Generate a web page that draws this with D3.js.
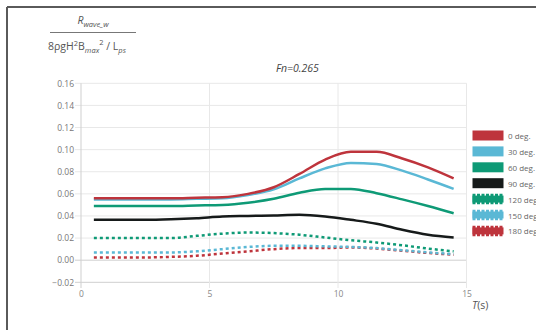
<!DOCTYPE html>
<html>
<head>
    <title>Fn=0.265</title>
    <script src="https://d3js.org/d3.v7.min.js"></script>
    <style>
        body { margin: 0; background: #fff; }
        text { font-family: "Open Sans", "DejaVu Sans", sans-serif; }
    </style>
</head>
<body>
    <svg id="chart" width="536" height="330"></svg>
    <script>
        // periods T(s)
        var periods = [0.5, 1.5, 2.5, 3.5, 4.5, 5.5, 6.5, 7.5, 8.5, 9.5, 10.5, 11.5, 12.5, 13.5, 14.5];
        var headings = ["0 deg.", "30 deg.", "60 deg.", "90 deg.", "120 deg.", "150 deg.", "180 deg."];
        var deg0   = [0.056, 0.056, 0.056, 0.056, 0.0565, 0.057, 0.060, 0.066, 0.078, 0.091, 0.098, 0.098, 0.092, 0.084, 0.074];
        var deg30  = [0.055, 0.055, 0.055, 0.055, 0.0555, 0.056, 0.059, 0.064, 0.074, 0.083, 0.088, 0.087, 0.081, 0.073, 0.0645];
        var deg60  = [0.049, 0.049, 0.049, 0.049, 0.0495, 0.050, 0.052, 0.0555, 0.061, 0.0645, 0.0645, 0.0606, 0.055, 0.049, 0.0425];
        var deg90  = [0.0365, 0.0365, 0.0365, 0.037, 0.038, 0.0395, 0.040, 0.0405, 0.041, 0.0395, 0.0365, 0.033, 0.0275, 0.023, 0.0205];
        var deg120 = [0.020, 0.020, 0.020, 0.020, 0.022, 0.024, 0.025, 0.0245, 0.023, 0.0205, 0.018, 0.016, 0.0135, 0.0105, 0.008];
        var deg150 = [0.007, 0.007, 0.007, 0.007, 0.008, 0.010, 0.012, 0.013, 0.013, 0.0125, 0.012, 0.011, 0.009, 0.007, 0.0055];
        var deg180 = [0.0025, 0.0025, 0.0025, 0.003, 0.004, 0.006, 0.008, 0.010, 0.011, 0.011, 0.0115, 0.0105, 0.0085, 0.0065, 0.005];
        var yTicks = [-0.02, 0, 0.02, 0.04, 0.06, 0.08, 0.10, 0.12, 0.14, 0.16];
        var xTicks = [0, 5, 10, 15];

        var series = [deg0, deg30, deg60, deg90, deg120, deg150, deg180];
        var colors = ["#be343c", "#5ab8d5", "#0e9a76", "#161a1a", "#0e9a76", "#5ab8d5", "#be343c"];
        var dashed = [false, false, false, false, true, true, true];

        var svg = d3.select("#chart");

        // frame (top and left edges only)
        svg.append("line").attr("x1", 7).attr("x2", 536).attr("y1", 7).attr("y2", 7)
            .attr("stroke", "#5a5a5a").attr("stroke-width", 2);
        svg.append("line").attr("x1", 7).attr("x2", 7).attr("y1", 7).attr("y2", 330)
            .attr("stroke", "#5a5a5a").attr("stroke-width", 2);

        var xScale = d3.scaleLinear().domain([0, 15]).range([81, 466.5]);
        var yScale = d3.scaleLinear().domain([-0.02, 0.16]).range([282.3, 83.3]);

        // grid
        svg.append("g").selectAll("line").data(yTicks).enter().append("line")
            .attr("x1", 75).attr("x2", 466.5)
            .attr("y1", d => yScale(d)).attr("y2", d => yScale(d))
            .attr("stroke", d => (d === 0 || d === -0.02) ? "#cfcfcf" : "#e8e8e8")
            .attr("stroke-width", 1);
        svg.append("g").selectAll("line").data(xTicks).enter().append("line")
            .attr("x1", d => xScale(d)).attr("x2", d => xScale(d))
            .attr("y1", 83.3).attr("y2", 288)
            .attr("stroke", d => d === 0 ? "#cfcfcf" : "#e8e8e8")
            .attr("stroke-width", 1);

        // axis labels
        var yAxis = d3.axisLeft(yScale).tickValues(yTicks).tickFormat(d3.format(".2f")).tickSize(0).tickPadding(7);
        var ya = svg.append("g").attr("transform", "translate(81,0)").call(yAxis);
        ya.select(".domain").remove();
        ya.selectAll("text").attr("fill", "#777").style("font-size", "8.5px")
            .style("font-family", "'Open Sans', sans-serif");

        var xAxis = d3.axisBottom(xScale).tickValues(xTicks).tickSize(0).tickPadding(9);
        var xa = svg.append("g").attr("transform", "translate(0,282.3)").call(xAxis);
        xa.select(".domain").remove();
        xa.selectAll("text").attr("fill", "#888").style("font-size", "8.5px")
            .style("font-family", "'Open Sans', sans-serif");

        // lines
        var line = d3.line()
            .x((d, i) => xScale(periods[i]))
            .y(d => yScale(d))
            .curve(d3.curveMonotoneX);

        for (var k = series.length - 1; k >= 0; k--) {
            svg.append("path").datum(series[k])
                .attr("fill", "none")
                .attr("stroke", colors[k])
                .attr("stroke-width", 2.5)
                .attr("stroke-dasharray", dashed[k] ? "3,3" : null)
                .attr("d", line);
        }

        // title
        svg.append("text").attr("x", 276).attr("y", 72)
            .attr("fill", "#444").style("font-size", "10.5px").style("font-style", "italic")
            .text("Fn=0.265");

        // x axis title
        var tt = svg.append("text").attr("x", 472).attr("y", 309)
            .attr("fill", "#555").style("font-size", "10.5px");
        tt.append("tspan").style("font-style", "italic").text("T");
        tt.append("tspan").text("(s)");

        // y axis title as a fraction
        var num = svg.append("text").attr("x", 93).attr("y", 24).attr("text-anchor", "middle")
            .attr("fill", "#555").style("font-size", "10.5px").style("font-style", "italic");
        num.append("tspan").text("R");
        num.append("tspan").attr("dy", 3).style("font-size", "7.5px").text("wave_w");
        svg.append("line").attr("x1", 50).attr("x2", 136).attr("y1", 32.5).attr("y2", 32.5)
            .attr("stroke", "#777").attr("stroke-width", 1);
        var den = svg.append("text").attr("x", 48).attr("y", 50)
            .attr("fill", "#555").style("font-size", "10.5px");
        den.append("tspan").text("8ρgH");
        den.append("tspan").attr("dy", -4).style("font-size", "7.5px").text("2");
        den.append("tspan").attr("dy", 4).text("B");
        den.append("tspan").attr("dy", 3).style("font-size", "7.5px").style("font-style", "italic").text("max");
        den.append("tspan").attr("dy", -8).style("font-size", "7.5px").text("2");
        den.append("tspan").attr("dy", 5).text(" / L");
        den.append("tspan").attr("dy", 3).style("font-size", "7.5px").style("font-style", "italic").text("ps");

        // legend
        var legend = svg.append("g").attr("transform", "translate(472.5,130.5)");
        headings.forEach(function (name, i) {
            var row = legend.append("g").attr("transform", "translate(0," + (i * 15.9) + ")");
            if (dashed[i]) {
                row.append("rect").attr("x", 0).attr("y", 1.5).attr("width", 31).attr("height", 7)
                    .attr("fill", colors[i]);
                row.append("line").attr("x1", 0).attr("x2", 31).attr("y1", 5).attr("y2", 5)
                    .attr("stroke", colors[i]).attr("stroke-width", 10.5)
                    .attr("stroke-dasharray", "3,1.5");
            } else {
                row.append("rect").attr("x", 0).attr("y", 0).attr("width", 31).attr("height", 10)
                    .attr("fill", colors[i]);
            }
            row.append("text").attr("x", 35.5).attr("y", 8.5)
                .attr("fill", "#666").style("font-size", "8px").text(name);
        });
    </script>
</body>
</html>
